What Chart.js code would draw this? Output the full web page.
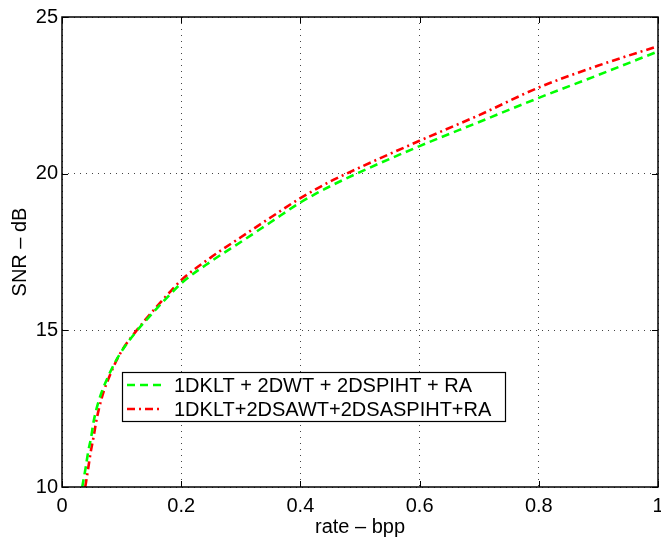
<!DOCTYPE html>
<html>
<head>
<meta charset="utf-8">
<script src="https://cdn.jsdelivr.net/npm/chart.js@4.4.0/dist/chart.umd.min.js"></script>
<style>
html,body{margin:0;padding:0;background:#fff;}
#wrap{position:relative;width:661px;height:543px;}
</style>
</head>
<body>
<div id="wrap"><canvas id="c" width="661" height="543"></canvas></div>
<script>
const seriesNames = ['1DKLT + 2DWT + 2DSPIHT + RA', '1DKLT+2DSAWT+2DSASPIHT+RA'];
const rateA = [0.034, 0.040, 0.044, 0.049, 0.053, 0.058, 0.067, 0.078, 0.089, 0.103, 0.122, 0.14, 0.16, 0.18, 0.2, 0.25, 0.3, 0.35, 0.4, 0.45, 0.5, 0.6, 0.7, 0.8, 0.9, 1.0];
const snrA  = [10, 10.65, 11.13, 11.6, 12.08, 12.5, 13.05, 13.55, 13.98, 14.42, 14.9, 15.3, 15.72, 16.12, 16.5, 17.2, 17.82, 18.45, 19.08, 19.6, 20.05, 20.88, 21.65, 22.42, 23.15, 23.9];
const rateB = [0.039, 0.044, 0.048, 0.053, 0.057, 0.062, 0.070, 0.080, 0.090, 0.103, 0.122, 0.14, 0.16, 0.18, 0.2, 0.25, 0.3, 0.35, 0.4, 0.45, 0.5, 0.6, 0.7, 0.8, 0.9, 1.0];
const snrB  = [10, 10.6, 11.1, 11.6, 12.05, 12.5, 13.05, 13.55, 13.98, 14.43, 14.92, 15.34, 15.78, 16.2, 16.6, 17.33, 17.97, 18.6, 19.22, 19.75, 20.2, 21.05, 21.87, 22.75, 23.45, 24.07];
const xTicks = [0, 0.2, 0.4, 0.6, 0.8, 1];
const yTicks = [10, 15, 20, 25];

const FONT = 'Liberation Sans, Arial, Helvetica, sans-serif';
const FS = 20;
const colors = ['#00ff00', '#ff0000'];
const dashes = [[8,5],[8,4,2,4]];

function pts(xs, ys){ return xs.map((x,i)=>({x:x, y:ys[i]})); }

const framePlugin = {
  id:'frame',
  afterDraw(chart){
    const {ctx, chartArea:a, scales} = chart;
    ctx.save();
    ctx.strokeStyle = '#000'; ctx.lineWidth = 1;
    xTicks.forEach(v=>{
      const px = Math.round(scales.x.getPixelForValue(v))+0.5;
      ctx.beginPath(); ctx.moveTo(px,a.bottom); ctx.lineTo(px,a.bottom-6);
      ctx.moveTo(px,a.top); ctx.lineTo(px,a.top+6); ctx.stroke();
    });
    yTicks.forEach(v=>{
      const py = Math.round(scales.y.getPixelForValue(v))+0.5;
      ctx.beginPath(); ctx.moveTo(a.left,py); ctx.lineTo(a.left+6,py);
      ctx.moveTo(a.right,py); ctx.lineTo(a.right-6,py); ctx.stroke();
    });
    ctx.lineWidth = 1.5;
    ctx.strokeRect(a.left, a.top, a.right-a.left, a.bottom-a.top);
    const lx = 122, ly = 372, lw = 383, lh = 49;
    ctx.fillStyle = '#fff'; ctx.fillRect(lx,ly,lw,lh);
    ctx.lineWidth = 1.2; ctx.strokeStyle = '#000';
    ctx.strokeRect(lx+0.5,ly+0.5,lw,lh);
    const rows = [385, 409];
    ctx.font = FS + 'px ' + FONT;
    ctx.textBaseline = 'middle';
    rows.forEach((ry,i)=>{
      ctx.strokeStyle = colors[i]; ctx.lineWidth = 2.5;
      ctx.setLineDash(dashes[i]);
      ctx.beginPath(); ctx.moveTo(127, ry); ctx.lineTo(161, ry); ctx.stroke();
      ctx.setLineDash([]);
      ctx.fillStyle = '#000';
      ctx.fillText(seriesNames[i], 174, ry+1);
    });
    ctx.restore();
  }
};

new Chart(document.getElementById('c'), {
  type:'scatter',
  data:{
    datasets:[
      {label:seriesNames[0], data:pts(rateA,snrA), showLine:true, borderColor:colors[0], borderWidth:2.6, borderDash:dashes[0], pointRadius:0, cubicInterpolationMode:'monotone', fill:false},
      {label:seriesNames[1], data:pts(rateB,snrB), showLine:true, borderColor:colors[1], borderWidth:2.6, borderDash:dashes[1], pointRadius:0, cubicInterpolationMode:'monotone', fill:false}
    ]
  },
  options:{
    responsive:false, animation:false,
    layout:{autoPadding:false, padding:{left:0, right:3, top:17, bottom:0}},
    plugins:{legend:{display:false}, tooltip:{enabled:false}},
    scales:{
      x:{
        type:'linear', min:0, max:1,
        afterBuildTicks(s){ s.ticks = xTicks.map(v=>({value:v})); },
        afterFit(s){ s.height = 56; s.paddingLeft = 0; s.paddingRight = 0; },
        ticks:{color:'#000', font:{family:FONT, size:FS}, padding:7, callback:v=>String(v), maxRotation:0},
        grid:{color:'#444', lineWidth:1, drawTicks:false},
        border:{display:false, dash:[1,5]},
        title:{display:true, text:'rate – bpp', color:'#000', font:{family:FONT, size:FS}, padding:{top:0,bottom:4}}
      },
      y:{
        type:'linear', min:10, max:25,
        afterBuildTicks(s){ s.ticks = yTicks.map(v=>({value:v})); },
        afterFit(s){ s.width = 62; s.paddingTop = 0; s.paddingBottom = 0; },
        ticks:{color:'#000', font:{family:FONT, size:FS}, padding:4},
        grid:{color:'#444', lineWidth:1, drawTicks:false},
        border:{display:false, dash:[1,5]},
        title:{display:true, text:'SNR – dB', color:'#000', font:{family:FONT, size:FS}, padding:{top:8,bottom:0}}
      }
    }
  },
  plugins:[framePlugin]
});
</script>
</body>
</html>
